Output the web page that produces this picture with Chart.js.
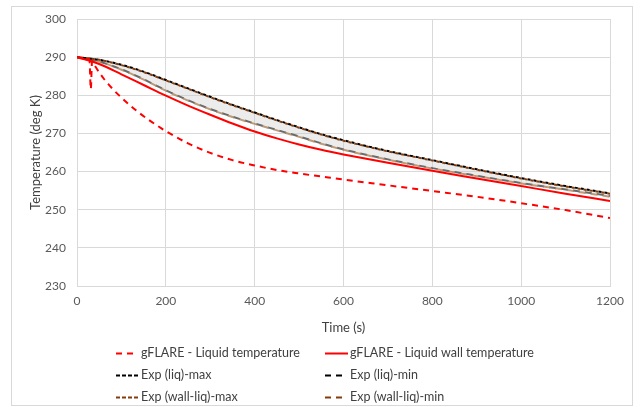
<!DOCTYPE html>
<html><head><meta charset="utf-8">
<script src="https://cdn.jsdelivr.net/npm/chart.js@4.4.1/dist/chart.umd.min.js"></script>
<style>html,body{margin:0;padding:0;background:#fff;}canvas{display:block}</style>
</head><body>
<canvas id="c" width="640" height="407"></canvas>
<script>
// ---- data ----
const seriesNames = [
  'gFLARE - Liquid temperature',
  'gFLARE - Liquid wall temperature',
  'Exp (liq)-max',
  'Exp (liq)-min',
  'Exp (wall-liq)-max',
  'Exp (wall-liq)-min'
];
const timeLiqModel = [0, 15, 28, 31, 34, 40, 50, 60, 70, 80, 90, 100, 120, 140, 160, 180, 200, 250, 300, 350, 400, 450, 500, 550, 600, 700, 800, 900, 1000, 1100, 1200];
const tempLiqModel = [290, 289.8, 289.5, 281.6, 289.0, 287.8, 286.0, 284.4, 283.0, 281.7, 280.5, 279.4, 277.3, 275.4, 273.7, 272.1, 270.6, 267.4, 264.9, 263.0, 261.6, 260.4, 259.5, 258.7, 257.9, 256.4, 254.9, 253.4, 251.7, 249.9, 247.8];
const timeWallModel = [0, 50, 100, 150, 200, 250, 300, 350, 400, 450, 500, 550, 600, 700, 800, 900, 1000, 1100, 1200];
const tempWallModel = [290, 288.2, 285.5, 282.7, 279.9, 277.3, 274.9, 272.6, 270.5, 268.7, 267.1, 265.7, 264.5, 262.3, 260.2, 258.2, 256.2, 254.2, 252.3];
const timeExp = [0, 50, 100, 150, 200, 250, 300, 350, 400, 450, 500, 550, 600, 700, 800, 900, 1000, 1100, 1200];
const expLiqMax  = [290, 289.3, 288.0, 286.2, 284.0, 281.8, 279.6, 277.5, 275.5, 273.5, 271.6, 269.8, 268.2, 265.4, 263.0, 260.6, 258.3, 256.2, 254.3];
const expLiqMin  = [290, 288.8, 286.8, 284.2, 281.3, 278.7, 276.4, 274.4, 272.6, 270.9, 269.2, 267.4, 265.8, 263.2, 260.9, 258.9, 257.0, 255.3, 253.6];
const expWallMax = [290, 289.3, 287.9, 286.1, 283.9, 281.7, 279.5, 277.4, 275.4, 273.4, 271.5, 269.7, 268.1, 265.3, 262.9, 260.5, 258.2, 256.1, 254.2];
const expWallMin = [290, 288.8, 286.7, 284.1, 281.2, 278.6, 276.3, 274.3, 272.5, 270.8, 269.1, 267.3, 265.7, 263.1, 260.8, 258.8, 256.9, 255.2, 253.4];
const xTickValues = [0, 200, 400, 600, 800, 1000, 1200];
const yTickValues = [230, 240, 250, 260, 270, 280, 290, 300];
const xTitle = 'Time (s)';
const yTitle = 'Temperature (deg K)';

const pts = (xs, ys) => xs.map((x, i) => ({x: x, y: ys[i]}));

const FONT = 'Lato';
const RED = '#FF0000', BLK = '#000000', BRN = '#843C0C';

const legendItems = [
  {name: seriesNames[0], color: RED, dash: [6, 5], len: 17, col: 0, row: 0},
  {name: seriesNames[1], color: RED, dash: [], len: 23, col: 1, row: 0},
  {name: seriesNames[2], color: BLK, dash: [4, 2], len: 23, col: 0, row: 1},
  {name: seriesNames[3], color: BLK, dash: [6, 5], len: 17, col: 1, row: 1},
  {name: seriesNames[4], color: BRN, dash: [4, 2], len: 23, col: 0, row: 2},
  {name: seriesNames[5], color: BRN, dash: [6, 5], len: 17, col: 1, row: 2}
];

const framePlugin = {
  id: 'frame',
  beforeDraw(chart) {
    const ctx = chart.ctx;
    ctx.save();
    ctx.fillStyle = '#fff';
    ctx.fillRect(0, 0, chart.width, chart.height);
    ctx.strokeStyle = '#d9d9d9';
    ctx.lineWidth = 1;
    ctx.strokeRect(11.5, 6.5, 621, 399);
    ctx.restore();
  },
  afterDraw(chart) {
    const ctx = chart.ctx;
    ctx.save();
    ctx.font = '12.5px ' + FONT;
    ctx.textBaseline = 'middle';
    ctx.textAlign = 'left';
    legendItems.forEach(it => {
      const x0 = it.col ? 325 : 116;
      const y = 353 + it.row * 22;
      ctx.beginPath();
      ctx.setLineDash(it.dash);
      ctx.strokeStyle = it.color;
      ctx.lineWidth = 2;
      ctx.moveTo(x0, y + 0.5);
      ctx.lineTo(x0 + it.len, y + 0.5);
      ctx.stroke();
      ctx.setLineDash([]);
      ctx.fillStyle = '#404040';
      ctx.fillText(it.name, x0 + 25, y);
    });
    ctx.restore();
  }
};

const common = {pointRadius: 0, pointHoverRadius: 0, cubicInterpolationMode: 'monotone', fill: false};

new Chart(document.getElementById('c'), {
  type: 'line',
  data: {
    datasets: [
      Object.assign({label: seriesNames[0], data: pts(timeLiqModel, tempLiqModel), borderColor: RED, borderWidth: 2, borderDash: [6, 5], order: 1}, common),
      Object.assign({label: seriesNames[1], data: pts(timeWallModel, tempWallModel), borderColor: RED, borderWidth: 2, order: 0}, common),
      Object.assign({label: seriesNames[2], data: pts(timeExp, expLiqMax), borderColor: BLK, borderWidth: 2, borderDash: [3, 3], order: 3}, common),
      Object.assign({}, common, {label: seriesNames[3], data: pts(timeExp, expLiqMin), borderColor: 'rgba(60,60,60,0.75)', borderWidth: 2, borderDash: [7, 5], order: 10,
        fill: {target: 2, above: 'rgba(200,200,200,0.35)', below: 'rgba(200,200,200,0.35)'}}),
      Object.assign({label: seriesNames[4], data: pts(timeExp, expWallMax), borderColor: BRN, borderWidth: 2, borderDash: [3, 3], borderDashOffset: 3, order: 2}, common),
      Object.assign({label: seriesNames[5], data: pts(timeExp, expWallMin), borderColor: 'rgba(170,130,90,0.8)', borderWidth: 2, borderDash: [7, 5], borderDashOffset: 6, order: 4}, common)
    ]
  },
  options: {
    responsive: false,
    animation: false,
    devicePixelRatio: 1,
    layout: {padding: {left: 11, right: 30, top: 19, bottom: 71}},
    plugins: {legend: {display: false}, tooltip: {enabled: false}},
    scales: {
      x: {
        type: 'linear', min: 0, max: 1200,
        afterBuildTicks: s => { s.ticks = xTickValues.map(v => ({value: v})); },
        afterFit: s => { s.height = 50; },
        grid: {color: '#d9d9d9', drawTicks: false},
        border: {color: '#d9d9d9'},
        ticks: {color: '#595959', font: {family: FONT, size: 12}, padding: 8, maxRotation: 0, callback: v => String(v)},
        title: {display: true, text: xTitle, color: '#404040', font: {family: FONT, size: 13}, padding: {top: 3, bottom: 0}}
      },
      y: {
        type: 'linear', min: 230, max: 300,
        afterBuildTicks: s => { s.ticks = yTickValues.map(v => ({value: v})); },
        afterFit: s => { s.width = 66; },
        grid: {color: '#d9d9d9', drawTicks: false},
        border: {color: '#d9d9d9'},
        ticks: {color: '#595959', font: {family: FONT, size: 12}, padding: 11, callback: v => String(v)},
        title: {display: true, text: yTitle, color: '#404040', font: {family: FONT, size: 13}, padding: {top: 17, bottom: 0}}
      }
    }
  },
  plugins: [framePlugin]
});
</script>
</body></html>
